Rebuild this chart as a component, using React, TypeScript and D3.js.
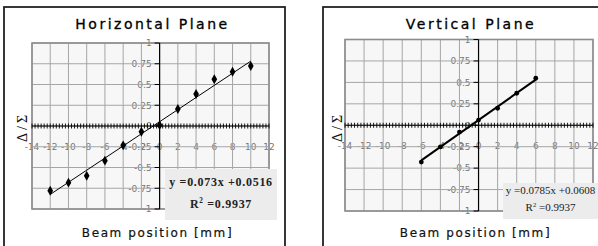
import React from "react";
import * as d3 from "d3";

// measured points, Horizontal Plane
const hX = [-12, -10, -8, -6, -4, -2, 0, 2, 4, 6, 8, 10];
const hY = [-0.78, -0.683, -0.6, -0.418, -0.233, -0.069, 0.01, 0.205, 0.385, 0.563, 0.654, 0.723];

// measured points, Vertical Plane
const vX = [-6, -4, -2, 0, 2, 4, 6];
const vY = [-0.43, -0.253, -0.08, 0.06, 0.198, 0.373, 0.548];

// trendline coefficients as printed on the chart
const hFit = [0.073, 0.0516];
const vFit = [0.0785, 0.0608];
const hR2 = "0.9937";
const vR2 = "0.9937";

const xTickValues = [-14, -12, -10, -8, -6, -4, -2, 0, 2, 4, 6, 8, 10, 12];
const yTickValues = [-1, -0.75, -0.5, -0.25, 0, 0.25, 0.5, 0.75, 1];
const yTickLabels = ["-1", "-0.75", "-0.5", "-0.25", "0", "0.25", "0.5", "0.75", "1"];

const tickFont = "'DejaVu Sans', Verdana, sans-serif";
const serif = "'Liberation Serif', 'Times New Roman', serif";

type PanelProps = {
  title: string;
  xs: number[];
  ys: number[];
  fit: number[];
  r2: string;
  frame: { x: number; y: number; w: number; h: number };
  plot: { x0: number; x1: number; y0: number; y1: number };
  titleX: number;
  xLabelX: number;
  yTitleX: number;
  box: { x: number; y: number; w: number; h: number; cx: number; b1: number; b2: number };
  eqSize: number;
  eqBold: boolean;
  lineWidth: number;
  diamond: boolean;
};

function Panel(p: PanelProps) {
  const x = d3.scaleLinear().domain([-14, 12]).range([p.plot.x0, p.plot.x1]);
  const y = d3.scaleLinear().domain([-1, 1]).range([p.plot.y1, p.plot.y0]);
  const x0 = x(0);
  const y0 = y(0);

  const minorTicks = d3.range(-14, 12.001, 1 / 3);
  const xExt = d3.extent(p.xs) as [number, number];
  const fitLine = d3.line<number>()
    .x((d) => x(d))
    .y((d) => y(p.fit[0] * d + p.fit[1]));

  const diamond = d3.symbol(d3.symbolDiamond, 28)();

  const eqText = `y =${p.fit[0]}x +${p.fit[1]}`;
  const weight = p.eqBold ? "bold" : "normal";
  const ls = p.eqBold ? 0.7 : 0;

  return (
    <g>
      {/* chart frame */}
      <rect x={p.frame.x} y={p.frame.y} width={p.frame.w} height={p.frame.h}
        fill="#fff" stroke="#222" strokeWidth={1.8} />

      {/* title */}
      <text x={p.titleX} y={29} textAnchor="middle" fontFamily={tickFont}
        fontSize={14} letterSpacing={2.5} fill="#000" stroke="#000" strokeWidth={0.3}>{p.title}</text>

      {/* plot area */}
      <rect x={p.plot.x0} y={p.plot.y0} width={p.plot.x1 - p.plot.x0}
        height={p.plot.y1 - p.plot.y0} fill="#f7f7f7" />

      {/* tick labels */}
      {xTickValues.map((v) => (
        <text key={"xl" + v} x={x(v)} y={y0 + 24} textAnchor="middle"
          fontFamily={tickFont} fontSize={9} fill="#777">{String(v)}</text>
      ))}
      {yTickValues.map((v, i) => (
        <text key={"yl" + v} x={x0 - 8} y={y(v) + 3.3} textAnchor="end"
          fontFamily={tickFont} fontSize={9} fill="#777">{yTickLabels[i]}</text>
      ))}

      {/* grid */}
      {xTickValues.map((v) => (
        <line key={"gx" + v} x1={x(v)} x2={x(v)} y1={p.plot.y0} y2={p.plot.y1}
          stroke="#a6a6a6" strokeWidth={1} />
      ))}
      {yTickValues.map((v) => (
        <line key={"gy" + v} x1={p.plot.x0} x2={p.plot.x1} y1={y(v)} y2={y(v)}
          stroke="#a6a6a6" strokeWidth={1} />
      ))}
      <rect x={p.plot.x0} y={p.plot.y0} width={p.plot.x1 - p.plot.x0}
        height={p.plot.y1 - p.plot.y0} fill="none" stroke="#8c8c8c" strokeWidth={1.6} />

      {/* x axis at y=0 with minor ticks */}
      <line x1={p.plot.x0} x2={p.plot.x1} y1={y0} y2={y0} stroke="#000" strokeWidth={1} />
      {minorTicks.map((v, i) => (
        <line key={"mt" + i} x1={x(v)} x2={x(v)} y1={y0 - 2.5} y2={y0 + 2.5}
          stroke="#000" strokeWidth={0.9} />
      ))}

      {/* y axis at x=0 */}
      <line x1={x0} x2={x0} y1={p.plot.y0} y2={p.plot.y1} stroke="#000" strokeWidth={1.2} />
      {yTickValues.map((v) => (
        <line key={"yt" + v} x1={x0 - 5} x2={x0} y1={y(v)} y2={y(v)} stroke="#000" strokeWidth={1} />
      ))}

      {/* trendline */}
      <path d={fitLine(xExt) || ""} fill="none" stroke="#000" strokeWidth={p.lineWidth} />

      {/* points */}
      {p.xs.map((v, i) =>
        p.diamond ? (
          <path key={"pt" + i} d={diamond || ""} transform={`translate(${x(v)},${y(p.ys[i])})`} fill="#000" />
        ) : (
          <circle key={"pt" + i} cx={x(v)} cy={y(p.ys[i])} r={2.4} fill="#000" />
        )
      )}

      {/* equation box */}
      <rect x={p.box.x} y={p.box.y} width={p.box.w} height={p.box.h} fill="#ececec" />
      <text x={p.box.cx} y={p.box.b1} textAnchor="middle" fontFamily={serif}
        fontSize={p.eqSize} fontWeight={weight} letterSpacing={ls} fill="#222">{eqText}</text>
      <text x={p.box.cx} y={p.box.b2} textAnchor="middle" fontFamily={serif}
        fontSize={p.eqSize} fontWeight={weight} letterSpacing={ls} fill="#222">
        R<tspan fontSize={p.eqSize * 0.6} dy={-p.eqSize * 0.4}>2</tspan>
        <tspan dy={p.eqSize * 0.4}> ={p.r2}</tspan>
      </text>

      {/* axis titles */}
      <text x={p.xLabelX} y={237} textAnchor="middle" fontFamily={tickFont}
        fontSize={12} letterSpacing={1.6} fill="#111" stroke="#111" strokeWidth={0.2}>Beam position [mm]</text>
      <text transform={`translate(${p.yTitleX},127) rotate(-90)`} textAnchor="middle"
        fontFamily={serif} fontSize={14} letterSpacing={3} fill="#111">Δ/Σ</text>
    </g>
  );
}

export default function App() {
  return (
    <svg width={598} height={246} style={{ position: "absolute", left: 0, top: 0, background: "#fff" }}>
      <Panel
        title="Horizontal Plane"
        xs={hX}
        ys={hY}
        fit={hFit}
        r2={hR2}
        frame={{ x: 4, y: 7, w: 281, h: 260 }}
        plot={{ x0: 32, x1: 269, y0: 43, y1: 209 }}
        titleX={152.5}
        xLabelX={157.5}
        yTitleX={27}
        box={{ x: 165, y: 169, w: 112, h: 51, cx: 221, b1: 186, b2: 208 }}
        eqSize={12}
        eqBold={true}
        lineWidth={1}
        diamond={true}
      />
      <Panel
        title="Vertical Plane"
        xs={vX}
        ys={vY}
        fit={vFit}
        r2={vR2}
        frame={{ x: 323, y: 7, w: 300, h: 260 }}
        plot={{ x0: 345, x1: 593, y0: 39.5, y1: 211 }}
        titleX={471}
        xLabelX={475.5}
        yTitleX={341.5}
        box={{ x: 503, y: 183, w: 100, h: 36, cx: 550.5, b1: 194, b2: 211 }}
        eqSize={11}
        eqBold={false}
        lineWidth={2}
        diamond={false}
      />
    </svg>
  );
}
